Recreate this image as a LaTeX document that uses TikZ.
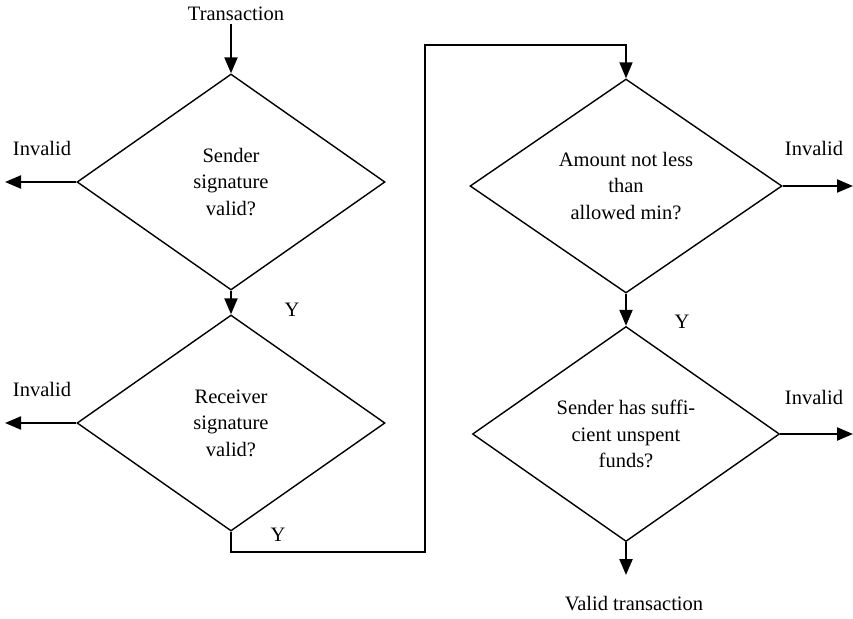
\documentclass[tikz,border=0pt]{standalone}
\usepackage{fontspec}
\setmainfont{Liberation Serif}
\usetikzlibrary{shapes.geometric,arrows.meta}

\begin{document}
\begin{tikzpicture}[
    x=1pt, y=-1pt,
    decision/.style={diamond, draw, line width=1.4pt, inner sep=0pt, aspect=1.43,
    minimum width=308pt, minimum height=216pt, align=center},
    flow/.style={line width=2.2pt, -{Triangle[length=16pt,width=13pt]}},
    route/.style={line width=1.7pt, -{Triangle[length=16pt,width=13pt]}},
    every node/.style={font=\fontsize{20.5}{26.5}\selectfont}
    ]
    \useasboundingbox (0,0) rectangle (853,618);

    % checks
    \node[decision] (sender) at (231,182) {Sender\\signature\\valid?};
    \node[decision] (receiver) at (231,423) {Receiver\\signature\\valid?};
    \node[decision, minimum width=312pt, minimum height=214pt] (amount) at (626,186) {Amount not less\\than\\allowed min?};
    \node[decision, minimum width=307pt, minimum height=215pt] (funds) at (626,434) {Sender has suffi-\\cient unspent\\funds?};

    % start and end
    \node (start) at (236,14) {Transaction};
    \node (valid) at (634,604) {Valid transaction};
    \draw[flow] (start.south -| sender.north) -- (sender.north);
    \coordinate (exit) at (626,575);
    \draw[flow] (funds.south) -- (exit);

    % yes branches
    \draw[flow] (sender.south) -- (receiver.north);
    \node (yes1) at (292,310) {Y};
    \coordinate (low) at (425,552);
    \coordinate (high) at (425,45);
    \draw[route] (receiver.south) |- (low) -- (high) -| (amount.north);
    \node (yes2) at (278,535) {Y};
    \draw[flow] (amount.south) -- (funds.north);
    \node (yes3) at (682,322) {Y};

    % invalid branches
    \coordinate (out1) at (5,182);
    \coordinate (out2) at (5,423);
    \coordinate (out3) at (853,186);
    \coordinate (out4) at (853,434);
    \draw[flow] (sender.west) -- (out1);
    \draw[flow] (receiver.west) -- (out2);
    \draw[flow] (amount.east) -- (out3);
    \draw[flow] (funds.east) -- (out4);
    \node (inv1) at (42,148) {Invalid};
    \node (inv2) at (42,389) {Invalid};
    \node (inv3) at (814,148) {Invalid};
    \node (inv4) at (814,397) {Invalid};

\end{tikzpicture}
\end{document}
